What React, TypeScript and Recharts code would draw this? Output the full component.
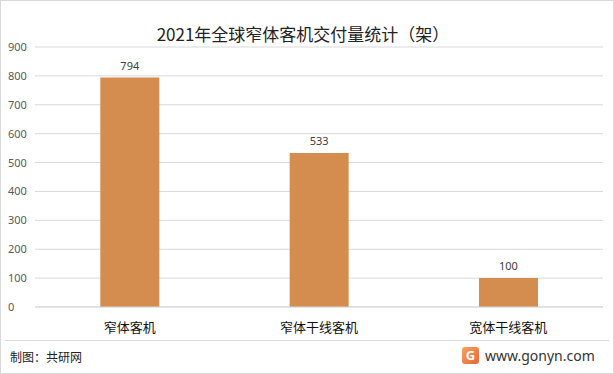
import React from "react";
import { BarChart, Bar, XAxis, YAxis, CartesianGrid, LabelList } from "recharts";

const categories = ["窄体客机", "窄体干线客机", "宽体干线客机"];
const deliveries = [794, 533, 100];
const yTicks = [0, 100, 200, 300, 400, 500, 600, 700, 800, 900];

const data = categories.map((name, i) => ({ name, value: deliveries[i] }));

const FONT = "'Noto Sans CJK SC', 'Noto Sans', sans-serif";

const YTick = (props: any) => {
  const { y, payload } = props;
  return (
    <text x={8} y={y} dy={4} textAnchor="start" fontSize={11} fill="#595959" fontFamily="'Noto Sans', sans-serif">
      {payload.value}
    </text>
  );
};

export default function App() {
  return (
    <div
      style={{
        position: "absolute",
        left: 0,
        top: 0,
        width: 612,
        height: 372,
        border: "1px solid #d9d9d9",
        background: "#fff",
        fontFamily: FONT,
      }}
    >
      <div
        style={{
          position: "absolute",
          top: 20,
          left: 0,
          width: 604,
          textAlign: "center",
          fontSize: 17,
          color: "#222",
        }}
      >
        2021年全球窄体客机交付量统计（架）
      </div>
      <div style={{ position: "absolute", left: -1, top: -1 }}>
        <BarChart
          width={614}
          height={374}
          data={data}
          margin={{ top: 47, right: 11, left: 0, bottom: 40 }}
          barCategoryGap="34.5%"
        >
          <CartesianGrid vertical={false} stroke="#d9d9d9" />
          <XAxis
            dataKey="name"
            axisLine={{ stroke: "#d9d9d9" }}
            tickLine={false}
            height={27}
            tick={{ fontSize: 13, fill: "#111", fontFamily: FONT }}
            dy={8}
          />
          <YAxis
            width={35}
            domain={[0, 900]}
            ticks={yTicks}
            axisLine={false}
            tickLine={false}
            tick={<YTick />}
          />
          <Bar dataKey="value" fill="#D48C4F" isAnimationActive={false}>
            <LabelList
              dataKey="value"
              position="top"
              offset={8}
              style={{ fontSize: 11, fill: "#404040", fontFamily: "'Noto Sans', sans-serif" }}
            />
          </Bar>
        </BarChart>
      </div>
      <div
        style={{
          position: "absolute",
          left: 4,
          right: 4,
          top: 339,
          borderTop: "1px solid #d9d9d9",
        }}
      />
      <div style={{ position: "absolute", left: 9, top: 347, fontSize: 12, color: "#222" }}>
        制图：共研网
      </div>
      <div
        style={{
          position: "absolute",
          left: 461,
          top: 346,
          width: 17,
          height: 17,
          borderRadius: 3,
          background: "linear-gradient(135deg, #f7a35c, #e8653a)",
          color: "#fff",
          fontSize: 13,
          fontWeight: 700,
          lineHeight: "17px",
          textAlign: "center",
          fontFamily: "'Noto Sans', sans-serif",
        }}
      >
        G
      </div>
      <div
        style={{
          position: "absolute",
          left: 484,
          top: 345,
          fontSize: 14,
          color: "#333",
          fontFamily: "'Noto Sans', sans-serif",
        }}
      >
        www.gonyn.com
      </div>
    </div>
  );
}
